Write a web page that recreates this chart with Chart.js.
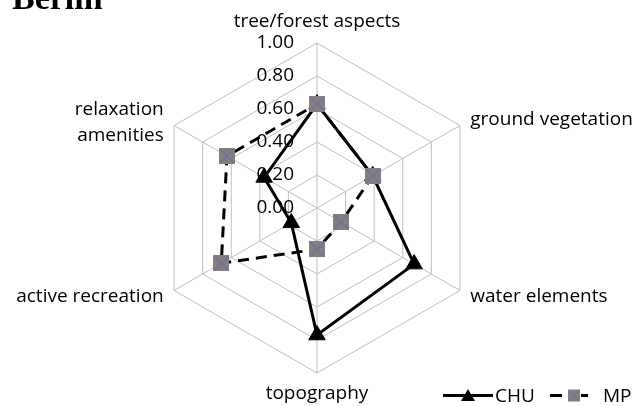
<!DOCTYPE html>
<html>
<head>
<meta charset="utf-8">
<script src="https://cdn.jsdelivr.net/npm/chart.js@4.4.0/dist/chart.umd.min.js"></script>
<style>
    html, body { margin: 0; padding: 0; background: #fff; }
    #wrap { position: relative; width: 644px; height: 406px; overflow: hidden; }
    #radarChart { display: block; }
    #title { position: absolute; left: 12px; top: -19px; font: bold 34px/34px "Liberation Serif", serif; color: #000; }
    .legend-icon { position: absolute; }
    .legend-text { position: absolute; font: 19px "Open Sans", sans-serif; line-height: 20px; color: #000; }
</style>
</head>
<body>
<div id="wrap">
    <canvas id="radarChart" width="644" height="406"></canvas>
    <div id="title">Berlin</div>
    <svg class="legend-icon" style="left:443px; top:387px" width="50" height="16">
        <line x1="0" y1="8.5" x2="50" y2="8.5" stroke="#000" stroke-width="3"/>
        <polygon points="25,2 32,14 18,14" fill="#000"/>
    </svg>
    <div class="legend-text" style="left:495px; top:385px">CHU</div>
    <svg class="legend-icon" style="left:550px; top:387px" width="40" height="16">
        <line x1="0" y1="8.5" x2="12" y2="8.5" stroke="#000" stroke-width="3"/>
        <line x1="31" y1="8.5" x2="38" y2="8.5" stroke="#000" stroke-width="3"/>
        <rect x="18" y="2.5" width="12" height="12" fill="#808080"/>
        <path d="M18.5 3 L29.5 14 M29.5 3 L18.5 14" stroke="#8064a2" stroke-width="1"/>
    </svg>
    <div class="legend-text" style="left:603px; top:385px">MP</div>
</div>
<script>
// Chart data
const categories = ['tree/forest aspects', 'ground vegetation', 'water elements', 'topography', 'active recreation', ['relaxation', 'amenities']];
const chuValues = [0.63, 0.39, 0.68, 0.77, 0.18, 0.37];
const mpValues = [0.63, 0.39, 0.17, 0.25, 0.67, 0.63];
const scaleMin = 0;
const scaleMax = 1;
const scaleStep = 0.2;

const labelFont = '19px "Open Sans", sans-serif';

// Gray square with purple cross, like the Excel marker
function makeSquareMarker(size) {
    const c = document.createElement('canvas');
    c.width = size;
    c.height = size;
    const g = c.getContext('2d');
    g.fillStyle = '#808080';
    g.fillRect(0, 0, size, size);
    g.strokeStyle = '#8064a2';
    g.lineWidth = 1.2;
    g.beginPath();
    g.moveTo(1, 1); g.lineTo(size - 1, size - 1);
    g.moveTo(size - 1, 1); g.lineTo(1, size - 1);
    g.stroke();
    return c;
}

// Tick labels sit left of the vertical axis, point labels around the outside
const radarText = {
    id: 'radarText',
    beforeDatasetsDraw(chart) {
        const scale = chart.scales.r;
        const ctx = chart.ctx;
        ctx.save();
        ctx.font = labelFont;
        ctx.fillStyle = '#000';
        ctx.textAlign = 'right';
        ctx.textBaseline = 'middle';
        scale.ticks.forEach(tick => {
            const y = scale.yCenter - scale.getDistanceFromCenterForValue(tick.value);
            ctx.fillText(tick.value.toFixed(2), scale.xCenter - 23, y);
        });
        ctx.restore();
    },
    afterDraw(chart) {
        const scale = chart.scales.r;
        const ctx = chart.ctx;
        const gaps = [21, 12, 12, 21, 12, 12];
        ctx.save();
        ctx.font = labelFont;
        ctx.fillStyle = '#000';
        ctx.textBaseline = 'middle';
        categories.forEach((label, i) => {
            const p = scale.getPointPosition(i, scale.drawingArea + gaps[i]);
            const dx = p.x - scale.xCenter;
            ctx.textAlign = Math.abs(dx) < 1 ? 'center' : (dx > 0 ? 'left' : 'right');
            const lines = Array.isArray(label) ? label : [label];
            const lh = 26;
            lines.forEach((line, k) => {
                const shift = lines.length > 1 ? 3 : 0;
                ctx.fillText(line, p.x, p.y + shift + (k - (lines.length - 1) / 2) * lh);
            });
        });
        ctx.restore();
    }
};

const ctx = document.getElementById('radarChart').getContext('2d');
const radarChart = new Chart(ctx, {
    type: 'radar',
    data: {
        labels: categories,
        datasets: [
            {
                label: 'CHU',
                data: chuValues,
                order: 1,
                borderColor: '#000',
                backgroundColor: '#000',
                borderWidth: 3,
                fill: false,
                tension: 0,
                pointStyle: 'triangle',
                pointRadius: 9.5,
                pointBorderWidth: 1,
                pointBackgroundColor: '#000',
                pointBorderColor: '#000'
            },
            {
                label: 'MP',
                data: mpValues,
                order: 0,
                borderColor: '#000',
                backgroundColor: '#808080',
                borderWidth: 3,
                borderDash: [11, 7],
                fill: false,
                tension: 0,
                pointStyle: makeSquareMarker(16),
                pointRadius: 8
            }
        ]
    },
    options: {
        responsive: false,
        animation: false,
        layout: {
            padding: { left: 152, right: 161, top: 43, bottom: 33 }
        },
        plugins: {
            legend: { display: false },
            tooltip: { enabled: false }
        },
        scales: {
            r: {
                min: scaleMin,
                max: scaleMax,
                ticks: { stepSize: scaleStep, display: false },
                grid: { color: '#c0c0c0', lineWidth: 1 },
                angleLines: { color: '#c0c0c0', lineWidth: 1 },
                pointLabels: { display: false }
            }
        }
    },
    plugins: [radarText]
});
</script>
</body>
</html>
